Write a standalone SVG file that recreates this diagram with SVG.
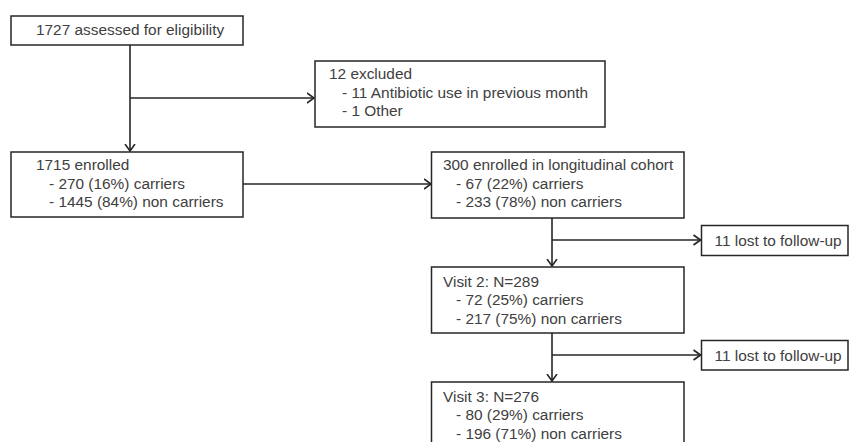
<svg xmlns="http://www.w3.org/2000/svg" width="849" height="442" viewBox="0 0 849 442">
<defs>
<style>
.box{fill:#fff;stroke:#262626;stroke-width:1.5}
.t{font-family:"Liberation Sans",Arial,sans-serif;font-size:15.4px;fill:#404040}
.c{fill:none;stroke:#262626;stroke-width:1.6}
</style>
<marker id="arr" viewBox="0 0 8 12" refX="7.5" refY="6" markerWidth="8" markerHeight="12" markerUnits="userSpaceOnUse" orient="auto">
<path d="M0.5,1 L7.5,6 L0.5,11" fill="none" stroke="#262626" stroke-width="1.6"/>
</marker>
</defs>
<rect width="849" height="442" fill="#fff"/>
<g id="connectors">
<path class="c" d="M130,45 V151" marker-end="url(#arr)"/>
<path class="c" d="M130,98 H314" marker-end="url(#arr)"/>
<path class="c" d="M243,184 H431" marker-end="url(#arr)"/>
<path class="c" d="M552,218 V266" marker-end="url(#arr)"/>
<path class="c" d="M552,240 H700.5" marker-end="url(#arr)"/>
<path class="c" d="M552,333 V381" marker-end="url(#arr)"/>
<path class="c" d="M552,355 H700.5" marker-end="url(#arr)"/>
</g>
<g id="assessed">
<rect class="box" x="11" y="16" width="232" height="29"/>
<text class="t" x="36" y="35">1727 assessed for eligibility</text>
</g>
<g id="excluded">
<rect class="box" x="315" y="61" width="290" height="66"/>
<text class="t" x="329" y="79">12 excluded</text>
<text class="t" x="342" y="97.5">- 11 Antibiotic use in previous month</text>
<text class="t" x="342" y="116">- 1 Other</text>
</g>
<g id="enrolled">
<rect class="box" x="11" y="152" width="232" height="65"/>
<text class="t" x="36" y="170">1715 enrolled</text>
<text class="t" x="49" y="188.5">- 270 (16%) carriers</text>
<text class="t" x="49" y="207">- 1445 (84%) non carriers</text>
</g>
<g id="cohort">
<rect class="box" x="431.5" y="152" width="252.5" height="66"/>
<text class="t" x="443" y="170">300 enrolled in longitudinal cohort</text>
<text class="t" x="456" y="188.5">- 67 (22%) carriers</text>
<text class="t" x="456" y="207">- 233 (78%) non carriers</text>
</g>
<g id="lost1">
<rect class="box" x="701.5" y="225.5" width="146.5" height="30"/>
<text class="t" x="714.5" y="246">11 lost to follow-up</text>
</g>
<g id="visit2">
<rect class="box" x="431.5" y="267" width="252.5" height="66"/>
<text class="t" x="443" y="286.5">Visit 2: N=289</text>
<text class="t" x="456" y="305">- 72 (25%) carriers</text>
<text class="t" x="456" y="323.5">- 217 (75%) non carriers</text>
</g>
<g id="lost2">
<rect class="box" x="701.5" y="340.5" width="146.5" height="29.5"/>
<text class="t" x="714.5" y="361">11 lost to follow-up</text>
</g>
<g id="visit3">
<rect class="box" x="431.5" y="382" width="252.5" height="70"/>
<text class="t" x="443" y="401.5">Visit 3: N=276</text>
<text class="t" x="456" y="420">- 80 (29%) carriers</text>
<text class="t" x="456" y="438.5">- 196 (71%) non carriers</text>
</g>
</svg>
